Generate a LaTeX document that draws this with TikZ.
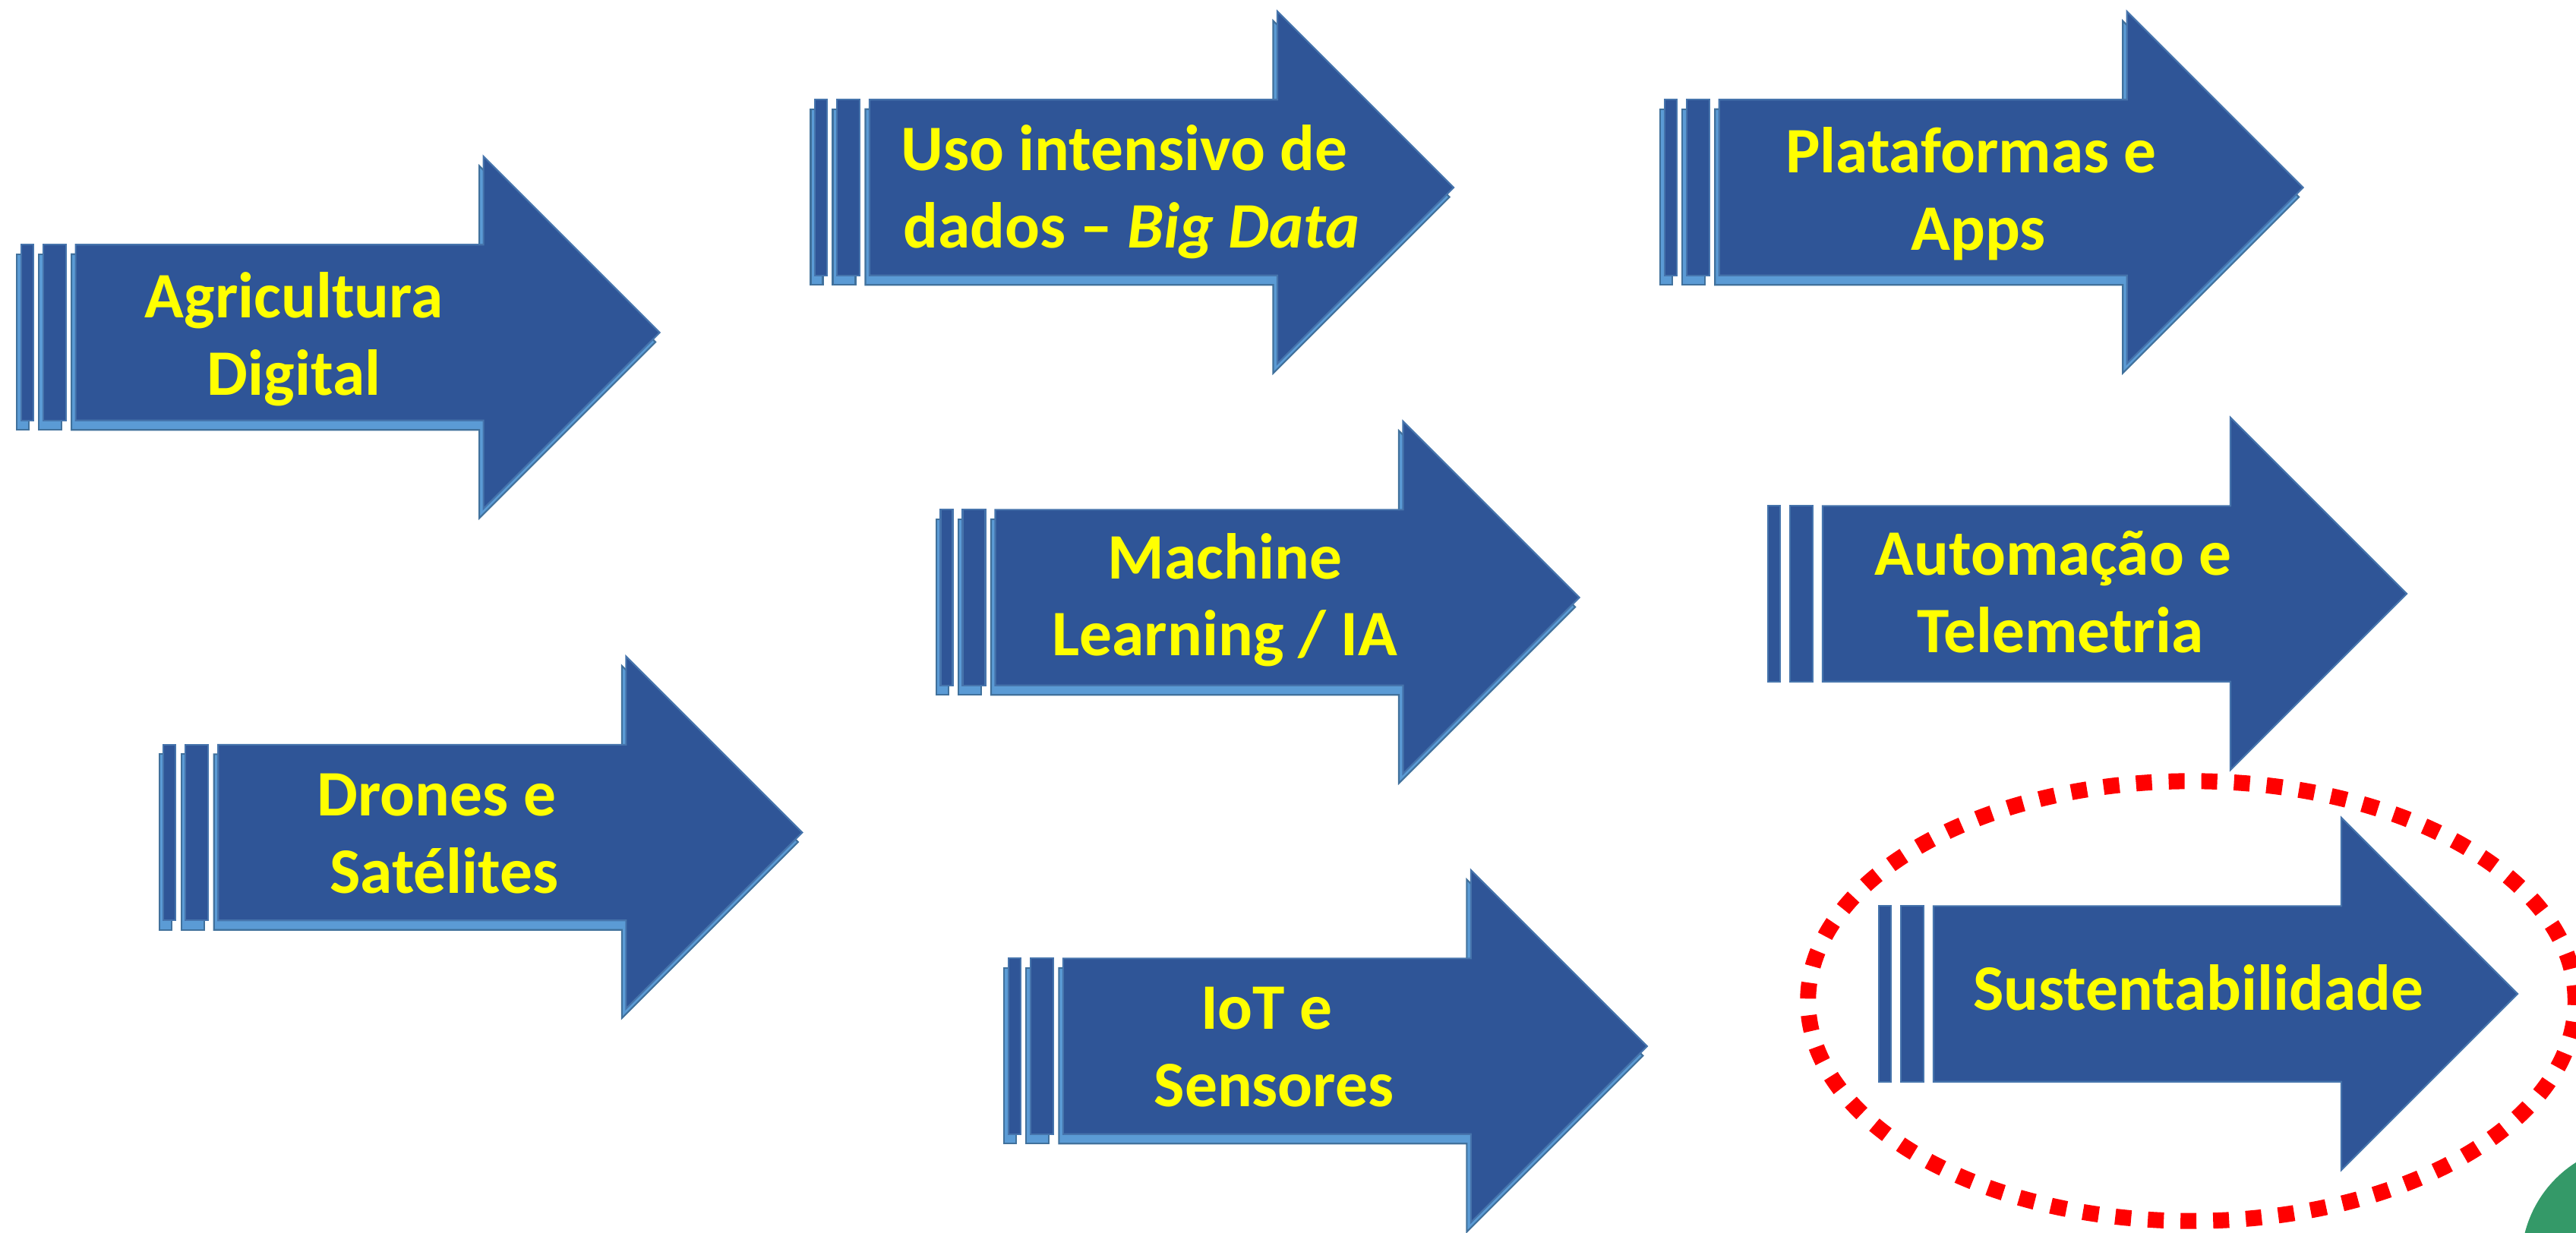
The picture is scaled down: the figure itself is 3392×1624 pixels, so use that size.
\documentclass[tikz,border=0pt]{standalone}
\usepackage{fontspec}
\setmainfont{Carlito}
\definecolor{arrowblue}{RGB}{47,85,151}
\definecolor{arrowedge}{RGB}{70,116,172}
\definecolor{shadowblue}{RGB}{91,155,213}
\definecolor{shadowedge}{RGB}{65,113,156}
\definecolor{ringred}{RGB}{255,0,0}
\definecolor{leafgreen}{RGB}{52,153,104}
\definecolor{textyellow}{RGB}{255,255,0}
\tikzset{
  mainfill/.style={fill=arrowblue, draw=arrowedge, line width=0.6pt},
  shadowfill/.style={fill=shadowblue, draw=shadowedge, line width=0.6pt},
  % striped right arrow, origin at the left end of the first stripe, on the axis
  pics/arrowbody/.style={code={
    \path[#1] (0,-115.7) rectangle (16,115.7);
    \path[#1] (29,-115.7) rectangle (59,115.7);
    \path[#1] (72,-115.7) -- (609,-115.7) -- (609,-232) -- (841,0)
              -- (609,232) -- (609,115.7) -- (72,115.7) -- cycle;
  }},
  pics/plainarrow/.style={code={\pic {arrowbody=mainfill};}},
  pics/shadowarrow/.style={code={
    \pic at (-5.5,12.5) {arrowbody=shadowfill};
    \pic {arrowbody=mainfill};
  }},
  arrowtext/.style={font=\bfseries\fontsize{24.3}{29}\selectfont,
    text=textyellow, anchor=base, inner sep=0pt},
  ring/.style={draw=ringred, line width=0.21cm, dash pattern=on 0.21cm off 0.22cm},
}
\newcommand{\tsp}{\hspace*{0.226em}}
\begin{document}
\begin{tikzpicture}[x=0.01cm, y=-0.01cm]
\useasboundingbox (0,0) rectangle (3392,1624);
\clip (0,0) rectangle (3392,1624);

% arrows
\pic (agri) at (27.6,438)   {shadowarrow};
\pic (uso)  at (1073,247)   {shadowarrow};
\pic (plat) at (2191.7,247) {shadowarrow};
\pic (ml)   at (1238.5,787) {shadowarrow};
\pic (auto) at (2328,782)   {plainarrow};
\pic (dron) at (215.3,1096.5) {shadowarrow};
\pic (iot)  at (1327.8,1378) {shadowarrow};
\pic (sust) at (2474,1309)  {plainarrow};

% labels
\node[arrowtext] (agriA) at (387,418) {Agricultura};
\node[arrowtext] (agriB) at (387,520) {Digital};

\node[arrowtext] (usoA) at (1490,224) {Uso intensivo de\tsp};
\node[arrowtext] (usoB) at (1490,326) {dados – \textit{Big Data}};

\node[arrowtext] (platA) at (2605,227) {Plataformas e\tsp};
\node[arrowtext] (platB) at (2605,329) {Apps};

\node[arrowtext] (mlA) at (1613,762) {Machine};
\node[arrowtext] (mlB) at (1613,863) {Learning / IA};

\node[arrowtext] (autoA) at (2713,757.5) {Automação e\tsp};
\node[arrowtext] (autoB) at (2713,859) {Telemetria};

\node[arrowtext] (dronA) at (584.7,1074) {Drones e\tsp};
\node[arrowtext] (dronB) at (584.7,1176.6) {Satélites};

\node[arrowtext] (iotA) at (1677.5,1355) {IoT e\tsp};
\node[arrowtext] (iotB) at (1677.5,1457) {Sensores};

\node[arrowtext] (sustA) at (2894.5,1330) {Sustentabilidade};

% green disc in the corner
\fill[leafgreen] (3475,1662) circle [radius=1.55cm];

% dotted highlight ring
\draw[ring] (2886,1318.5) ellipse [x radius=5.05cm, y radius=2.895cm];
\end{tikzpicture}
\end{document}
